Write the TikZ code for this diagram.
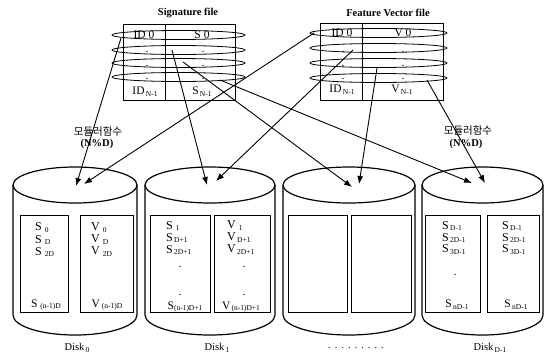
\documentclass[tikz,border=0pt]{standalone}
\usepackage{fontspec}
\setmainfont{Liberation Serif}
\newfontfamily\korfont{Noto Sans CJK KR}
\usetikzlibrary{arrows.meta}
\newcommand{\dsb}[1]{\raisebox{-0.35ex}{\fontsize{7.5}{7.5}\selectfont #1}}
\begin{document}
\begin{tikzpicture}[x=1pt,y=-1pt,
  thin line/.style={line width=0.9pt},
  cyl/.style={line width=1.2pt},
  loop/.style={line width=0.8pt},
  tabtxt/.style={inner sep=0pt,font=\fontsize{11.5}{11.5}\selectfont},
  celltxt/.style={inner sep=0pt,anchor=west,font=\fontsize{12}{12}\selectfont},
  bottxt/.style={inner sep=0pt,font=\fontsize{10.5}{10.5}\selectfont},
  title/.style={inner sep=0pt,font=\fontsize{10.5}{10.5}\selectfont\bfseries},
  lbl/.style={inner sep=0pt,font=\fontsize{10.5}{10.5}\selectfont},
  arr/.style={line width=0.9pt,-{Latex[length=8pt,width=6pt]}}]
\useasboundingbox (0,0) rectangle (545,357);

% ---------- Signature file table ----------
\node[title] (sigtitle) at (188,13) {Signature file};
\draw[thin line] (123,24) rectangle (235,100);
\draw[thin line] (165,24) -- (165,100);
\foreach \yy in {35,50,63,77} \draw[loop] (178.5,\yy) ellipse [x radius=66.5pt, y radius=4.5pt];
\node[tabtxt] (sid0) at (144,35) {ID 0};
\node[tabtxt] (ss0) at (202,35) {S 0};
\foreach \yy in {52,66,79} {\node[tabtxt] at (147,\yy) {.}; \node[tabtxt] at (203,\yy) {.};}
\node[tabtxt] (sidn) at (145,92) {ID\dsb{\,N-1}};
\node[tabtxt] (ssn) at (202,92) {S\dsb{\,N-1}};

% ---------- Feature Vector file table ----------
\node[title] (feattitle) at (388,13) {Feature Vector file};
\draw[thin line] (320,23) rectangle (443,100);
\draw[thin line] (362,23) -- (362,100);
\foreach \yy in {33,48,63,78} \draw[loop] (378.5,\yy) ellipse [x radius=68.5pt, y radius=4.5pt];
\node[tabtxt] (fid0) at (342,33) {ID 0};
\node[tabtxt] (fv0) at (403,33) {V 0};
\foreach \yy in {52,66,79} {\node[tabtxt] at (343,\yy) {.}; \node[tabtxt] at (403,\yy) {.};}
\node[tabtxt] (fidn) at (342,90) {ID\dsb{\,N-1}};
\node[tabtxt] (fvn) at (402,90) {V\dsb{\,N-1}};

% ---------- Cylinders ----------
\foreach \L/\R in {13/137,145/275,283/415,422/543} {
  \pgfmathsetmacro{\cx}{(\L+\R)/2}
  \pgfmathsetmacro{\rx}{(\R-\L)/2}
  \draw[cyl] (\cx,185) ellipse [x radius=\rx pt, y radius=18pt];
  \draw[cyl] (\L,185) -- (\L,315) arc[start angle=180,end angle=360,x radius=\rx pt,y radius=20pt] -- (\R,185);
}
% inner boxes
\foreach \a/\b in {20/68,80/133,150/210,214/270,288/347,351/411,425/480,487/539}
  \draw[thin line] (\a,215) rectangle (\b,312);

% Disk 0 contents
\node[celltxt] at (35,228) {S\hspace{3pt}\dsb{0}};
\node[celltxt] at (35,240) {S\hspace{3pt}\dsb{D}};
\node[celltxt] at (35,252) {S\hspace{3pt}\dsb{2D}};
\node[tabtxt] at (46,305) {S\hspace{3pt}\dsb{(n-1)D}};
\node[celltxt] at (91,228) {V\hspace{3pt}\dsb{0}};
\node[celltxt] at (91,240) {V\hspace{3pt}\dsb{D}};
\node[celltxt] at (91,252) {V\hspace{3pt}\dsb{2D}};
\node[tabtxt] at (107,305) {V\hspace{2pt}\dsb{(n-1)D}};

% Disk 1 contents
\node[celltxt] at (166,226) {S\hspace{3pt}\dsb{1}};
\node[celltxt] at (166,238) {S\dsb{\,D+1}};
\node[celltxt] at (166,250) {S\dsb{\,2D+1}};
\node[tabtxt] at (180,267) {.};
\node[tabtxt] at (180,295) {.};
\node[tabtxt] at (185,307) {S\dsb{(n-1)D+1}};
\node[celltxt] at (227,226) {V\hspace{3pt}\dsb{1}};
\node[celltxt] at (227,238) {V\dsb{\,D+1}};
\node[celltxt] at (227,250) {V\dsb{\,2D+1}};
\node[tabtxt] at (244,267) {.};
\node[tabtxt] at (244,295) {.};
\node[tabtxt] at (241,307) {V\dsb{\,(n-1)D+1}};

% Disk D-1 contents
\node[celltxt] at (442,226) {S\dsb{\,D-1}};
\node[celltxt] at (442,238) {S\dsb{\,2D-1}};
\node[celltxt] at (442,250) {S\dsb{\,3D-1}};
\node[tabtxt] at (455,275) {.};
\node[tabtxt] at (457,305) {S\dsb{\,nD-1}};
\node[celltxt] at (502,226) {S\dsb{\,D-1}};
\node[celltxt] at (502,238) {S\dsb{\,2D-1}};
\node[celltxt] at (502,250) {S\dsb{\,3D-1}};
\node[tabtxt] at (516,305) {S\dsb{\,nD-1}};

% ---------- Labels ----------
\node[lbl] (mod1) at (98,132) {\korfont 모듈러함수};
\node[lbl] (nd1) at (97,144) {\bfseries (N\%D)};
\node[lbl] (mod2) at (468,131) {\korfont 모듈러함수};
\node[lbl] (nd2) at (466,144) {\bfseries (N\%D)};

\node[bottxt] (d0) at (77,348) {Disk\dsb{\,0}};
\node[bottxt] (d1) at (217,348) {Disk\dsb{\,1}};
\node[bottxt] (ddots) at (356,348) {.\hspace{4pt}.\hspace{4pt}.\hspace{4pt}.\hspace{4pt}.\hspace{4pt}.\hspace{4pt}.\hspace{4pt}.\hspace{4pt}.};
\node[bottxt] (dn) at (490,348) {Disk\dsb{\,D-1}};

% ---------- Arrows ----------
\coordinate (s1) at (121,38);  \coordinate (t1) at (76,186);
\coordinate (s2) at (314,33);  \coordinate (t2) at (84,184);
\coordinate (s3) at (172,50);  \coordinate (t3) at (207,185);
\coordinate (s4) at (353,50);  \coordinate (t4) at (216,181);
\coordinate (s5) at (183,62);  \coordinate (t5) at (352,187);
\coordinate (s6) at (377,68);  \coordinate (t6) at (359,184);
\coordinate (s7) at (220,80);  \coordinate (t7) at (472,183);
\coordinate (s8) at (427,80);  \coordinate (t8) at (485,183);
\foreach \i in {1,...,8} \draw[arr] (s\i) -- (t\i);
\end{tikzpicture}
\end{document}
